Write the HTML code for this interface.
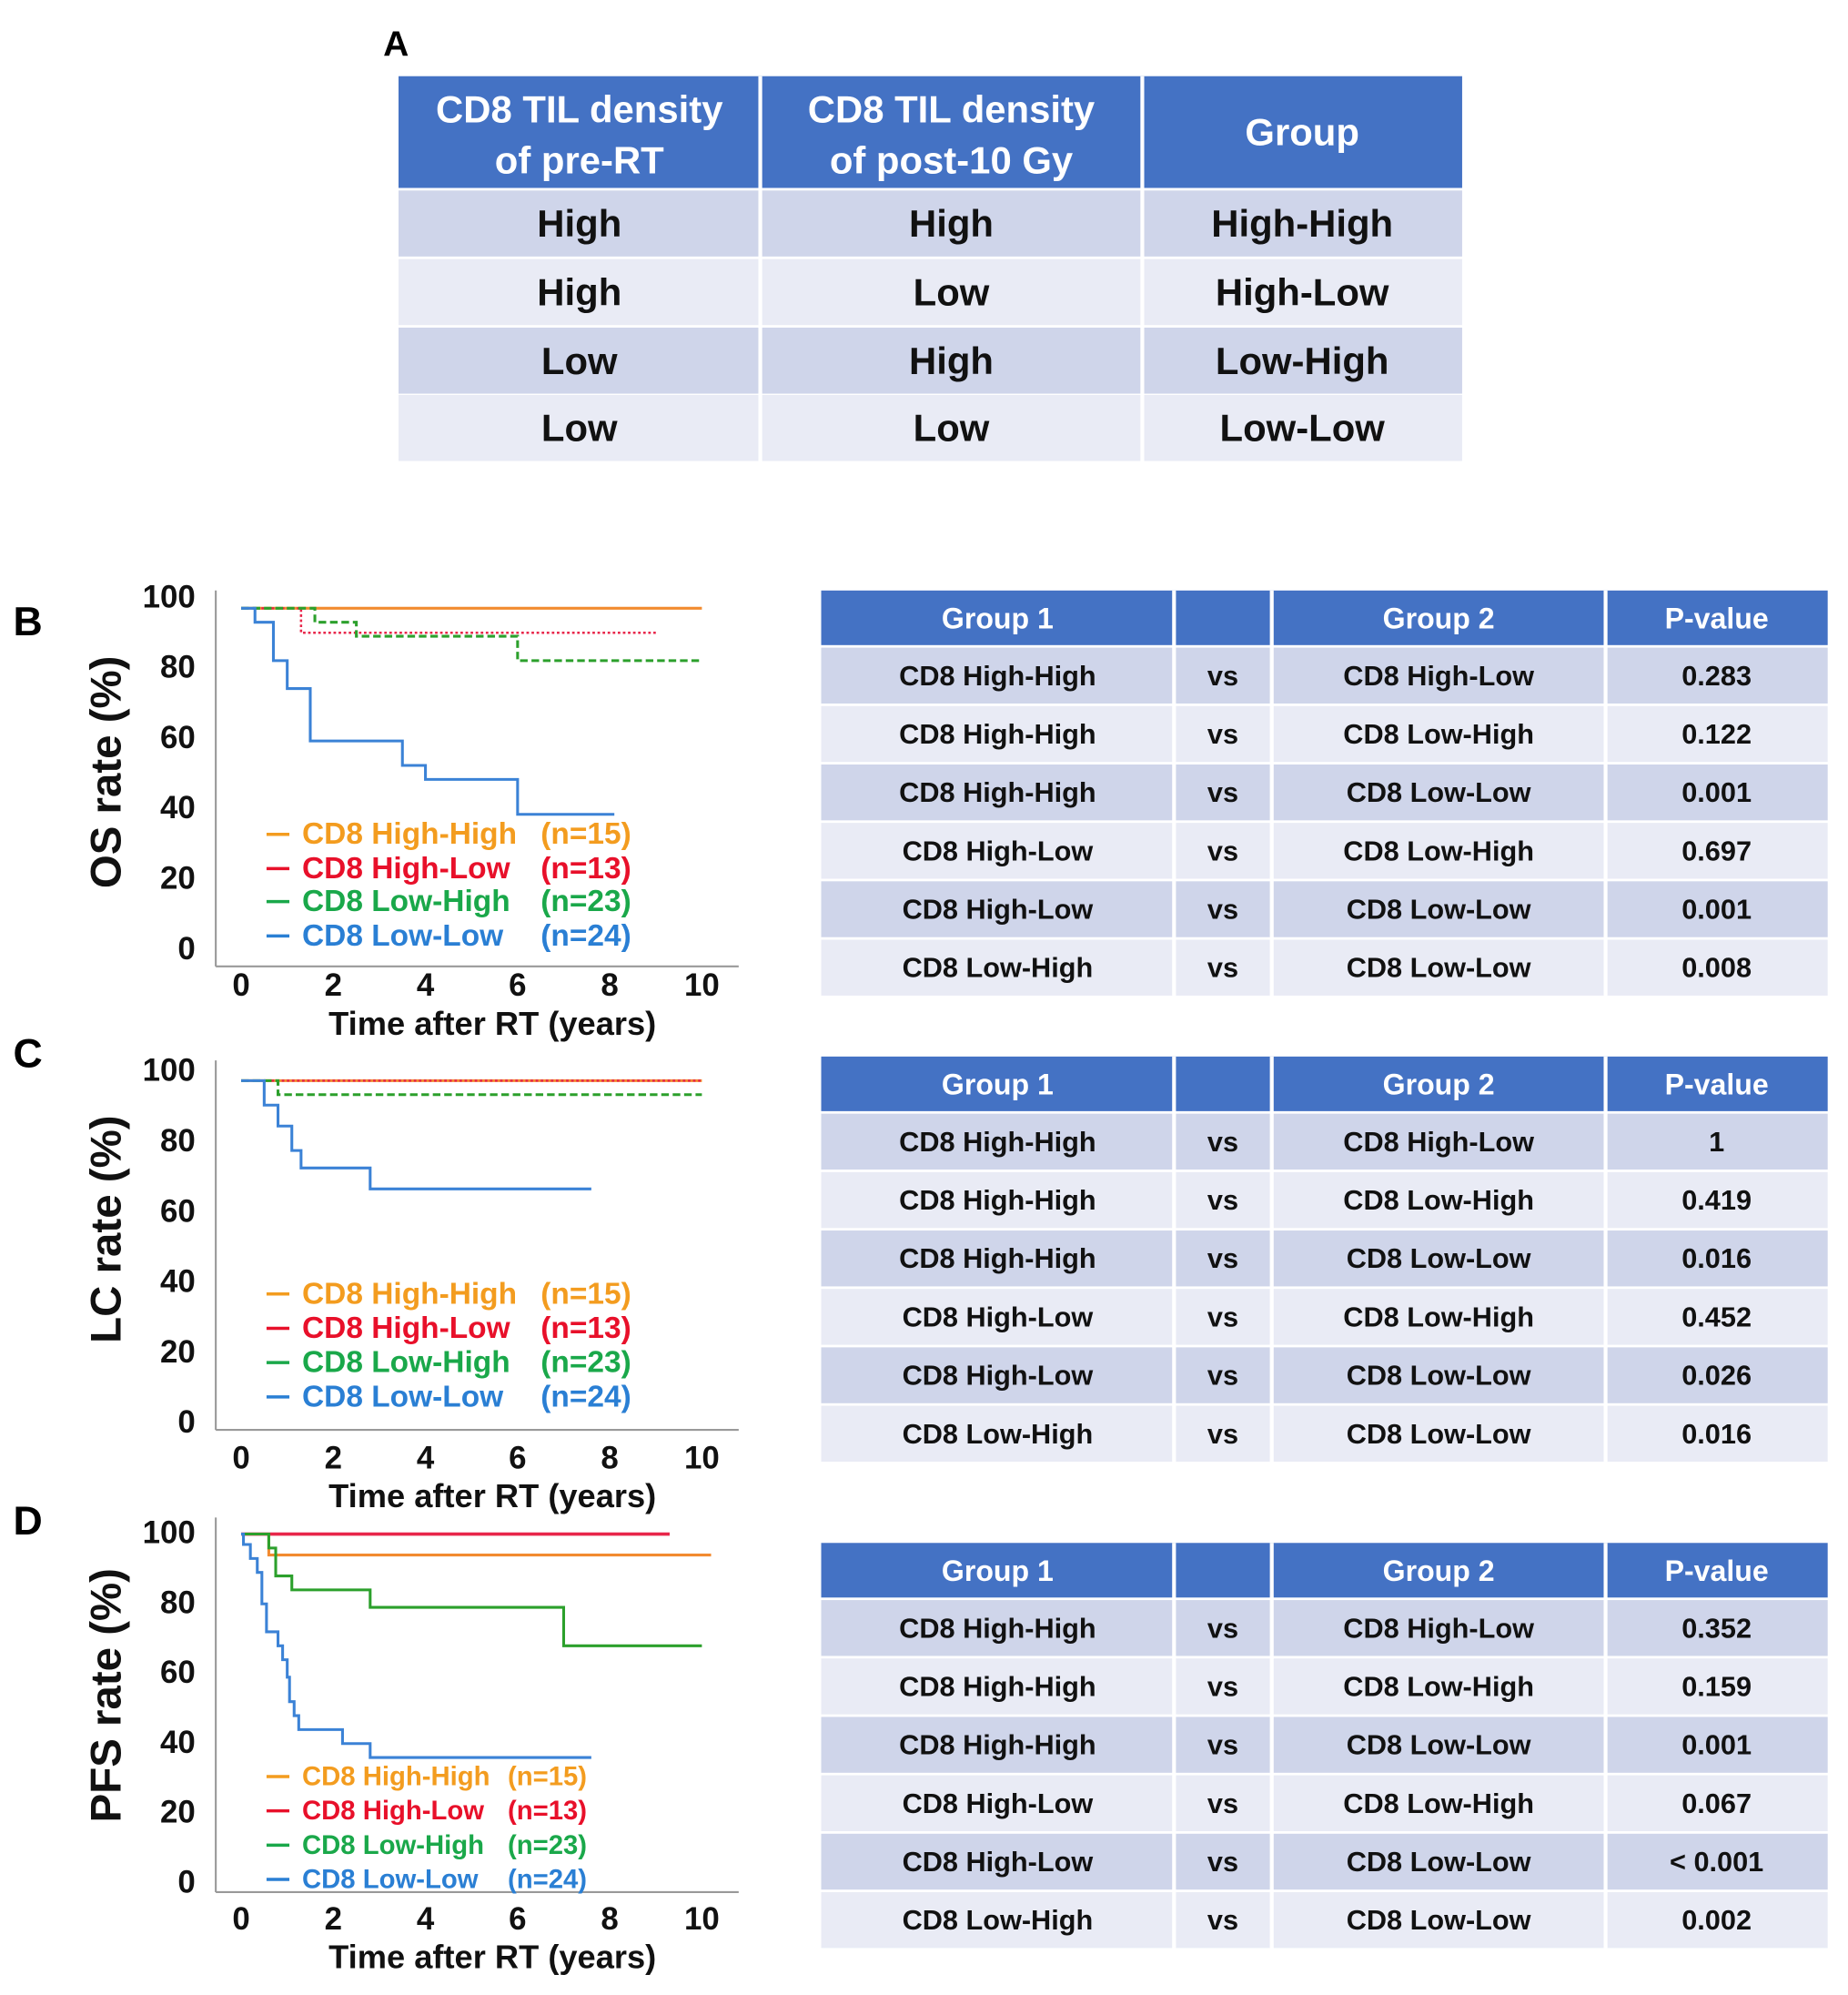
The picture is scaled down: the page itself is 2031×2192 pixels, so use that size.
<!DOCTYPE html>
<html><head><meta charset="utf-8"><style>
html,body{margin:0;padding:0;background:#fff}
svg{display:block}
text{font-family:"Liberation Sans",Arial,sans-serif;font-weight:bold}
</style></head><body>
<svg id="s" xmlns="http://www.w3.org/2000/svg" width="2031" height="2192" viewBox="0 0 1456 1571" preserveAspectRatio="none">
<rect width="1456" height="1571" fill="#fff"/>
</svg>
<script>
// ---------- data ----------
const tableAHeader = ["CD8 TIL density|of pre-RT","CD8 TIL density|of post-10 Gy","Group"];
const tableARows = [["High","High","High-High"],["High","Low","High-Low"],["Low","High","Low-High"],["Low","Low","Low-Low"]];
const groups = ["CD8 High-High","CD8 High-Low","CD8 Low-High","CD8 Low-Low"];
const groupN = ["(n=15)","(n=13)","(n=23)","(n=24)"];
const xTicks = [0,2,4,6,8,10];
const yTicks = [0,20,40,60,80,100];
// survival curves: step times and values
const osHHt=[0], osHHv=[100], osHHend=10;
const osHLt=[0,1.3], osHLv=[100,93], osHLend=9;
const osLHt=[0,1.6,2.5,6.0], osLHv=[100,96,92,85], osLHend=10;
const osLLt=[0,0.3,0.7,1.0,1.5,3.5,4.0,6.0], osLLv=[100,96,85,77,62,55,51,41], osLLend=8.1;
const lcHHt=[0], lcHHv=[100], lcHHend=10;
const lcHLt=[0], lcHLv=[100], lcHLend=10;
const lcLHt=[0,0.8], lcLHv=[100,96], lcLHend=10;
const lcLLt=[0,0.5,0.8,1.1,1.3,2.8], lcLLv=[100,93,87,80,75,69], lcLLend=7.6;
const pfsHHt=[0,0.6], pfsHHv=[100,94], pfsHHend=10.2;
const pfsHLt=[0], pfsHLv=[100], pfsHLend=9.3;
const pfsLHt=[0,0.6,0.75,1.1,2.8,7.0], pfsLHv=[100,96,88,84,79,68], pfsLHend=10;
const pfsLLt=[0,0.05,0.2,0.35,0.45,0.55,0.8,0.9,1.0,1.05,1.15,1.25,2.2,2.8], pfsLLv=[100,97,93,89,80,72,68,64,59,52,48,44,40,36], pfsLLend=7.6;
const pB=[["CD8 High-High","CD8 High-Low","0.283"],["CD8 High-High","CD8 Low-High","0.122"],["CD8 High-High","CD8 Low-Low","0.001"],["CD8 High-Low","CD8 Low-High","0.697"],["CD8 High-Low","CD8 Low-Low","0.001"],["CD8 Low-High","CD8 Low-Low","0.008"]];
const pC=[["CD8 High-High","CD8 High-Low","1"],["CD8 High-High","CD8 Low-High","0.419"],["CD8 High-High","CD8 Low-Low","0.016"],["CD8 High-Low","CD8 Low-High","0.452"],["CD8 High-Low","CD8 Low-Low","0.026"],["CD8 Low-High","CD8 Low-Low","0.016"]];
const pD=[["CD8 High-High","CD8 High-Low","0.352"],["CD8 High-High","CD8 Low-High","0.159"],["CD8 High-High","CD8 Low-Low","0.001"],["CD8 High-Low","CD8 Low-High","0.067"],["CD8 High-Low","CD8 Low-Low","< 0.001"],["CD8 Low-High","CD8 Low-Low","0.002"]];

const S=document.getElementById('s');
const NS="http://www.w3.org/2000/svg";
function el(tag,attrs,parent){const e=document.createElementNS(NS,tag);for(const k in attrs)e.setAttribute(k,attrs[k]);(parent||S).appendChild(e);return e;}
function txt(x,y,s,size,fill,anchor,parent){const t=el('text',{x:x,y:y,'font-size':size,fill:fill,'text-anchor':anchor||'middle','dominant-baseline':'central'},parent);t.textContent=s;return t;}

const HEAD="#4472c4", DARK="#cfd5ea", LIGHT="#e9ebf5";
// ---------- Table A ----------
const tA=el('g',{});


const la=txt(312,35,"A",28,"#000","middle");


const colA=[314,599,900,1152];
el('rect',{x:314,y:60,width:838,height:88,fill:HEAD},tA);
tableAHeader.forEach((h,i)=>{const cx=(colA[i]+colA[i+1])/2;const parts=h.split('|');
 if(parts.length===2){txt(cx,86,parts[0],30,"#fff","middle",tA);txt(cx,126,parts[1],30,"#fff","middle",tA);}else txt(cx,104,h,30,"#fff","middle",tA);});
const rowYA=[150,204,258,311], rowHA=52;
tableARows.forEach((r,ri)=>{el('rect',{x:314,y:rowYA[ri],width:838,height:rowHA,fill:ri%2?LIGHT:DARK},tA);
 r.forEach((c,ci)=>txt((colA[ci]+colA[ci+1])/2,rowYA[ri]+rowHA/2,c,30,"#111","middle",tA));});
[599,900].forEach(x=>el('line',{x1:x,x2:x,y1:60,y2:363,stroke:"#fff","stroke-width":3},tA));

// ---------- P tables ----------
function pTable(top,rows,name){
 const g=el('g',{});
 
 
 const cols=[647,925,1002,1265,1440];
 el('rect',{x:647,y:top,width:793,height:43,fill:HEAD},g);
 ["Group 1","","Group 2","P-value"].forEach((h,i)=>txt((cols[i]+cols[i+1])/2,top+22,h,23,"#fff","middle",g));
 rows.forEach((r,ri)=>{const y=top+45+ri*46;el('rect',{x:647,y:y,width:793,height:44,fill:ri%2?LIGHT:DARK},g);
  const vals=[r[0],"vs",r[1],r[2]];vals.forEach((v,ci)=>txt((cols[ci]+cols[ci+1])/2,y+22,v,22,"#111","middle",g));});
 [925,1002,1265].forEach(x=>el('line',{x1:x,x2:x,y1:top,y2:top+45+6*46,stroke:"#fff","stroke-width":3},g));
}
pTable(465,pB,'os-pvalue-table');
pTable(832,pC,'lc-pvalue-table');
pTable(1215,pD,'pfs-pvalue-table');

// ---------- KM charts ----------
const colors=["#f28b30","#e8264a","#2ca02c","#3b82d6"];
const legColors=["#f39c1f","#e8102a","#1aa84a","#2a7fd4"];
function chart(cfg){
 const g=el('g',{});
 
 
 const X=t=>190+t*36.3;
 const Y=v=>cfg.y100+(100-v)*cfg.k;
 const lab=txt(22,cfg.labelY,cfg.letter,32,"#000","middle",g);
 
 
 el('line',{x1:170,x2:170,y1:cfg.axTop,y2:cfg.axBot,stroke:"#999","stroke-width":1.5},g);
 el('line',{x1:170,x2:582,y1:cfg.axBot,y2:cfg.axBot,stroke:"#999","stroke-width":1.5},g);
 yTicks.forEach(v=>{const t=txt(154,cfg.lab0-(v/100)*(cfg.lab0-cfg.lab100),String(v),25,"#111","end",g);
  
  });
 xTicks.forEach(v=>{const t=txt(X(v),cfg.xLabY,String(v),25,"#111","middle",g);
  
  });
 const xt=txt(388,cfg.xLabY+30,"Time after RT (years)",26,"#111","middle",g);
 
 
 const yt=el('text',{x:0,y:0,'font-size':34,fill:"#111",'text-anchor':'middle','dominant-baseline':'central',transform:`translate(84,${cfg.titleY}) rotate(-90)`},g);
 yt.textContent=cfg.title;
 
 
 cfg.series.forEach((s,i)=>{
  let d=`M${X(s.t[0])},${Y(s.v[0])}`;
  for(let j=1;j<s.t.length;j++){d+=` H${X(s.t[j])} V${Y(s.v[j])}`;}
  d+=` H${X(s.end)}`;
  const p=el('path',{d:d,fill:"none",stroke:colors[i],"stroke-width":s.w||2.2,"stroke-dasharray":s.dash||"none"},g);
  
  
 });
 groups.forEach((gname,i)=>{const y=cfg.legY[i];
  const lg=el('g',{},g);
  
  
  el('line',{x1:cfg.legX,x2:cfg.legX+18,y1:y,y2:y,stroke:legColors[i],"stroke-width":2.5},lg);
  txt(cfg.legX+28,y,gname,cfg.legSize,legColors[i],"start",lg);
  txt(cfg.legNX,y,groupN[i],cfg.legSize,legColors[i],"start",lg);});
}
chart({name:'os-km-chart',letter:'B',labelY:490,title:'OS rate (%)',titleY:608,y100:479,k:2.75,axTop:465,axBot:761,lab100:470,lab0:747,xLabY:776,
 legX:210,legNX:426,legSize:24,legY:[657,684,710,737],
 series:[{t:osHHt,v:osHHv,end:osHHend},{t:osHLt,v:osHLv,end:osHLend,dash:"2 2",w:1.8},{t:osLHt,v:osLHv,end:osLHend,dash:"6 3"},{t:osLLt,v:osLLv,end:osLLend}]});
chart({name:'lc-km-chart',letter:'C',labelY:830,title:'LC rate (%)',titleY:968,y100:851,k:2.75,axTop:835,axBot:1126,lab100:843,lab0:1120,xLabY:1148,
 legX:210,legNX:426,legSize:24,legY:[1019,1046,1073,1100],
 series:[{t:lcHHt,v:lcHHv,end:lcHHend},{t:lcHLt,v:lcHLv,end:lcHLend,dash:"2 2",w:1.8},{t:lcLHt,v:lcLHv,end:lcLHend,dash:"6 3"},{t:lcLLt,v:lcLLv,end:lcLLend}]});
chart({name:'pfs-km-chart',letter:'D',labelY:1198,title:'PFS rate (%)',titleY:1335,y100:1208,k:2.75,axTop:1195,axBot:1490,lab100:1207,lab0:1482,xLabY:1511,
 legX:210,legNX:400,legSize:21,legY:[1399,1426,1453,1480],
 series:[{t:pfsHHt,v:pfsHHv,end:pfsHHend},{t:pfsHLt,v:pfsHLv,end:pfsHLend,w:2.6},{t:pfsLHt,v:pfsLHv,end:pfsLHend},{t:pfsLLt,v:pfsLLv,end:pfsLLend}]});
</script>
</body></html>
